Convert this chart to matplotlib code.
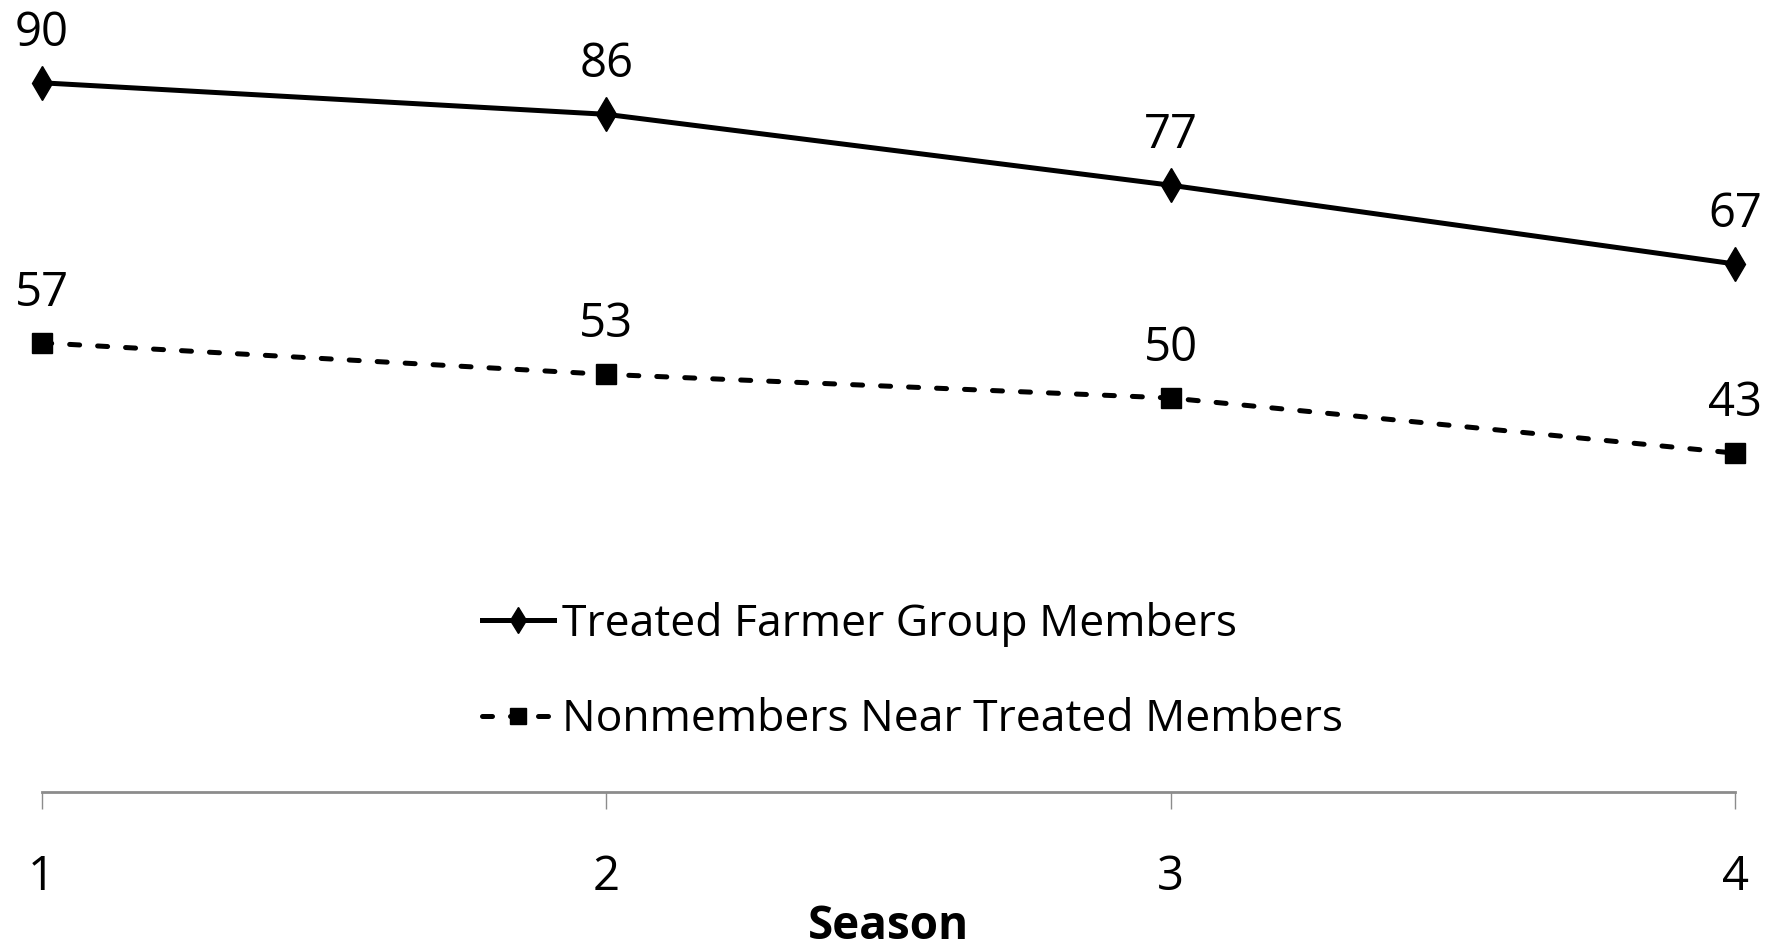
import matplotlib
matplotlib.use("Agg")
import matplotlib.pyplot as plt

# Series values per season
seasons = [1, 2, 3, 4]
treated_members = [90, 86, 77, 67]
nearby_nonmembers = [57, 53, 50, 43]
labels = ["Treated Farmer Group Members", "Nonmembers Near Treated Members"]

plt.rcParams["font.family"] = ["Open Sans", "DejaVu Sans"]

fig = plt.figure(figsize=(17.67, 9.49), dpi=100)
ax = fig.add_axes([0.0236, 0.1654, 0.9585, 0.8304])

ax.plot(seasons, treated_members, color="black", lw=3.6, marker="d",
        markersize=17, label=labels[0], clip_on=False)
ax.plot(seasons, nearby_nonmembers, color="black", lw=3.6, marker="s",
        markersize=14, dashes=(2.0, 3.6), dash_capstyle="round",
        label=labels[1], clip_on=False)

# Value labels above each point
for series in (treated_members, nearby_nonmembers):
    for x, y in zip(seasons, series):
        ax.annotate(str(y), (x, y), xytext=(0, 36), textcoords="offset points",
                    ha="center", va="center", fontsize=34, annotation_clip=False)

ax.set_xlim(1, 4)
ax.set_ylim(0, 100)
ax.set_xticks(seasons)
ax.set_yticks([])
for side in ("top", "right", "left"):
    ax.spines[side].set_visible(False)
ax.spines["bottom"].set_color("#8c8c8c")
ax.spines["bottom"].set_linewidth(2)
ax.tick_params(axis="x", direction="out", length=12, width=1, color="#8c8c8c",
               pad=32, labelsize=34)
ax.set_xlabel("Season", fontsize=33, fontweight="bold")
ax.xaxis.label.set_va("center")
ax.xaxis.set_label_coords(0.5, -0.170)

ax.legend(loc="center left", bbox_to_anchor=(0.273, 0.292),
          bbox_transform=fig.transFigure, frameon=False, fontsize=32,
          borderpad=0, borderaxespad=0, handlelength=1.6, handletextpad=0.2,
          labelspacing=1.15, markerscale=0.8)

fig.savefig("out.png", dpi=100)
